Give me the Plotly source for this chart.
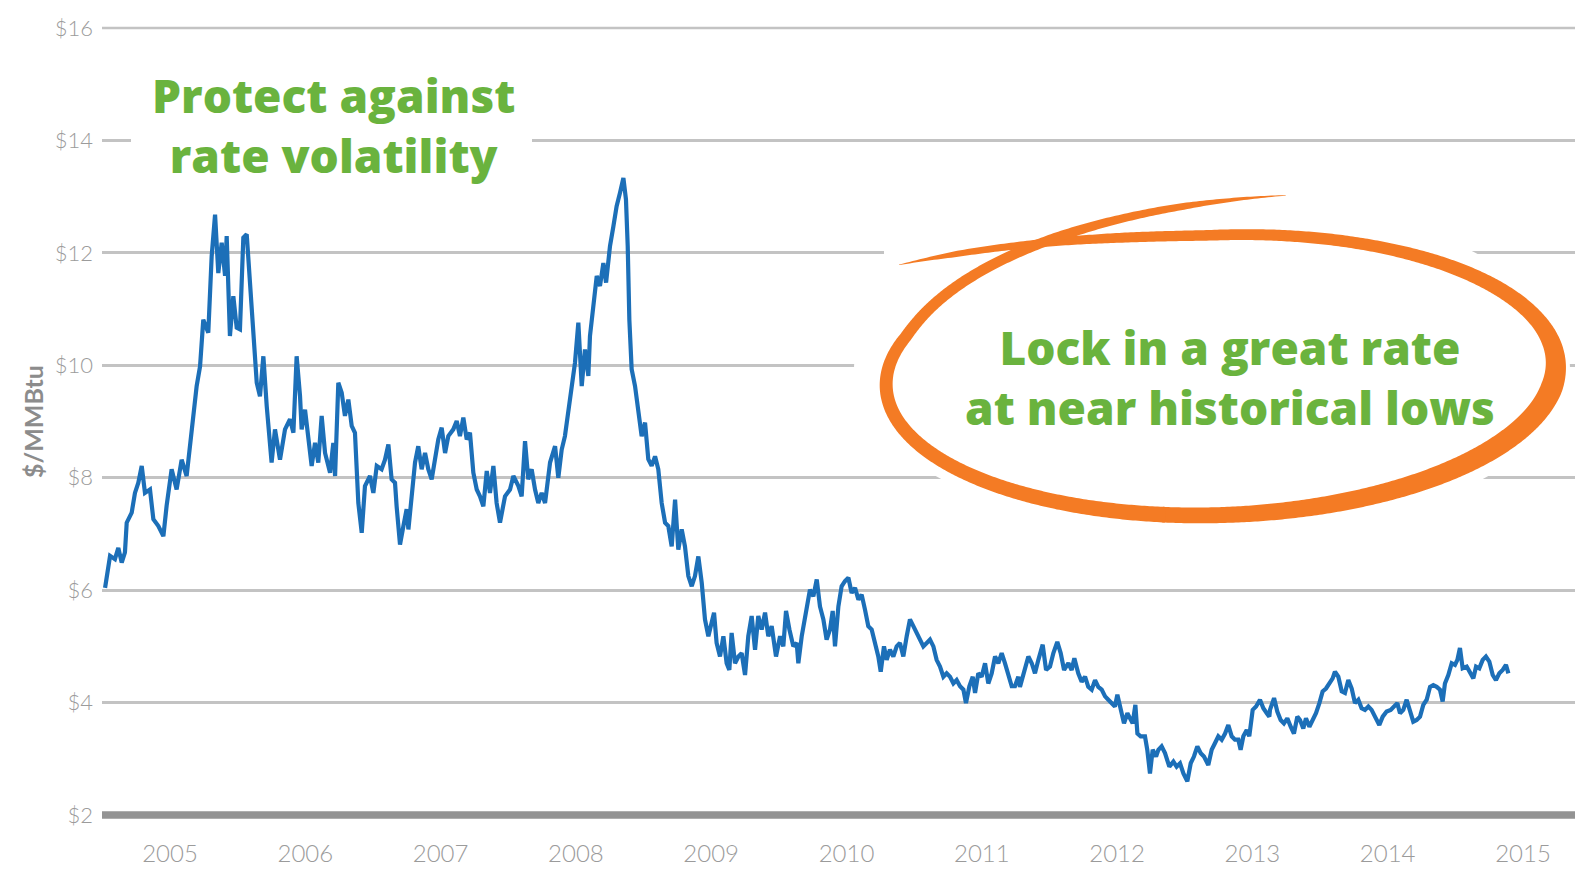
import numpy as np
import plotly.graph_objects as go

# ---------------- data: (decimal year, $/MMBtu) ----------------
seg_2005_2006 = [
    (2005.020, 6.04), (2005.057, 6.61), (2005.093, 6.55), (2005.118, 6.75), (2005.143, 6.49),
    (2005.167, 6.67), (2005.180, 7.20), (2005.217, 7.38), (2005.241, 7.73), (2005.266, 7.91),
    (2005.291, 8.21), (2005.315, 7.73), (2005.352, 7.79), (2005.377, 7.26), (2005.414, 7.14),
    (2005.451, 6.96), (2005.475, 7.50), (2005.512, 8.15), (2005.549, 7.79), (2005.586, 8.32),
    (2005.623, 8.03), (2005.660, 8.92), (2005.697, 9.63), (2005.722, 9.98), (2005.746, 10.81),
    (2005.783, 10.58), (2005.808, 11.94), (2005.833, 12.68), (2005.857, 11.64), (2005.882, 12.18),
    (2005.907, 11.59), (2005.919, 12.30), (2005.943, 10.52), (2005.968, 11.23), (2005.993, 10.67),
    (2006.017, 10.64), (2006.042, 12.27), (2006.067, 12.33), (2006.091, 11.47), (2006.116, 10.58),
    (2006.141, 9.69), (2006.165, 9.45), (2006.190, 10.16), (2006.215, 9.27), (2006.239, 8.44),
    (2006.251, 8.27), (2006.276, 8.86), (2006.313, 8.32), (2006.350, 8.86), (2006.387, 9.04),
    (2006.412, 8.80), (2006.436, 10.16), (2006.461, 9.45), (2006.473, 8.86), (2006.498, 9.21),
    (2006.522, 8.68), (2006.547, 8.21), (2006.572, 8.62), (2006.596, 8.27), (2006.621, 9.10),
    (2006.646, 8.44), (2006.683, 8.09), (2006.707, 8.62), (2006.720, 8.03), (2006.744, 9.69),
    (2006.769, 9.51), (2006.793, 9.10), (2006.818, 9.39), (2006.843, 8.92), (2006.867, 8.80),
    (2006.892, 7.55), (2006.917, 7.02), (2006.941, 7.85), (2006.978, 8.03), (2007.003, 7.73),
    (2007.028, 8.21), (2007.064, 8.15), (2007.089, 8.32), (2007.114, 8.59), (2007.138, 7.97),
    (2007.163, 7.91),
]

seg_2007_2009 = [
    (2007.175, 7.49), (2007.200, 6.81), (2007.225, 7.14), (2007.249, 7.44), (2007.262, 7.08),
    (2007.286, 7.73), (2007.311, 8.27), (2007.335, 8.56), (2007.360, 8.15), (2007.385, 8.44),
    (2007.409, 8.15), (2007.434, 7.97), (2007.459, 8.38), (2007.483, 8.68), (2007.508, 8.89),
    (2007.533, 8.44), (2007.557, 8.74), (2007.594, 8.86), (2007.619, 9.01), (2007.643, 8.74),
    (2007.668, 9.07), (2007.693, 8.68), (2007.717, 8.80), (2007.742, 8.09), (2007.767, 7.79),
    (2007.791, 7.67), (2007.816, 7.49), (2007.841, 8.12), (2007.865, 7.73), (2007.890, 8.21),
    (2007.914, 7.55), (2007.939, 7.20), (2007.976, 7.67), (2008.013, 7.79), (2008.038, 8.03),
    (2008.075, 7.85), (2008.099, 7.67), (2008.124, 8.65), (2008.148, 7.97), (2008.173, 8.15),
    (2008.198, 7.79), (2008.222, 7.55), (2008.247, 7.73), (2008.272, 7.55), (2008.309, 8.27),
    (2008.346, 8.56), (2008.370, 8.00), (2008.395, 8.50), (2008.419, 8.74), (2008.444, 9.21),
    (2008.469, 9.63), (2008.493, 10.04), (2008.518, 10.76), (2008.543, 9.63), (2008.567, 10.28),
    (2008.592, 9.81), (2008.604, 10.52), (2008.629, 11.11), (2008.654, 11.59), (2008.678, 11.41),
    (2008.703, 11.82), (2008.723, 11.47), (2008.752, 12.12), (2008.777, 12.47), (2008.801, 12.83),
    (2008.826, 13.07), (2008.851, 13.33), (2008.870, 12.95), (2008.883, 12.12), (2008.895, 10.81),
    (2008.912, 9.93), (2008.937, 9.63), (2008.962, 9.10), (2008.986, 8.74), (2009.011, 8.98),
    (2009.035, 8.33), (2009.060, 8.21), (2009.085, 8.38), (2009.109, 8.15), (2009.134, 7.55),
    (2009.159, 7.20), (2009.183, 7.14), (2009.208, 6.78), (2009.233, 7.61), (2009.257, 6.72),
    (2009.282, 7.08), (2009.306, 6.78), (2009.331, 6.25), (2009.356, 6.07), (2009.380, 6.25),
    (2009.405, 6.60), (2009.430, 6.13),
]

seg_2009_2011 = [
    (2009.454, 5.48), (2009.479, 5.18), (2009.503, 5.42), (2009.521, 5.60), (2009.540, 5.06),
    (2009.565, 4.82), (2009.590, 5.18), (2009.614, 4.70), (2009.634, 4.58), (2009.651, 5.24),
    (2009.676, 4.70), (2009.701, 4.82), (2009.725, 4.88), (2009.750, 4.49), (2009.774, 5.18),
    (2009.799, 5.54), (2009.824, 4.94), (2009.848, 5.54), (2009.873, 5.30), (2009.898, 5.60),
    (2009.922, 5.18), (2009.947, 5.36), (2009.979, 4.82), (2010.009, 5.18), (2010.033, 5.00),
    (2010.053, 5.63), (2010.078, 5.30), (2010.107, 5.00), (2010.132, 5.06), (2010.144, 4.70),
    (2010.169, 5.18), (2010.206, 5.71), (2010.230, 6.01), (2010.255, 5.89), (2010.280, 6.19),
    (2010.304, 5.71), (2010.329, 5.48), (2010.353, 5.12), (2010.378, 5.30), (2010.398, 5.63),
    (2010.415, 5.00), (2010.440, 5.71), (2010.464, 6.07), (2010.489, 6.16), (2010.514, 6.22),
    (2010.538, 5.95), (2010.563, 6.04), (2010.588, 5.83), (2010.612, 5.92), (2010.637, 5.65),
    (2010.661, 5.36), (2010.686, 5.30), (2010.711, 5.06), (2010.735, 4.82), (2010.753, 4.55),
    (2010.777, 5.00), (2010.797, 4.76), (2010.821, 4.94), (2010.846, 4.82), (2010.871, 5.00),
    (2010.895, 5.06), (2010.920, 4.82), (2010.945, 5.18), (2010.969, 5.48), (2010.994, 5.36),
    (2011.019, 5.24), (2011.043, 5.12), (2011.068, 5.00), (2011.093, 5.06), (2011.117, 5.12),
    (2011.142, 5.00), (2011.166, 4.76), (2011.191, 4.64), (2011.216, 4.46), (2011.240, 4.52),
    (2011.265, 4.46), (2011.290, 4.34), (2011.314, 4.40), (2011.339, 4.29), (2011.364, 4.23),
    (2011.383, 3.99), (2011.408, 4.29), (2011.433, 4.46), (2011.450, 4.17), (2011.474, 4.52),
    (2011.499, 4.46), (2011.524, 4.70), (2011.548, 4.34), (2011.573, 4.52), (2011.598, 4.82),
    (2011.622, 4.70), (2011.647, 4.88), (2011.671, 4.70), (2011.696, 4.46), (2011.721, 4.29),
    (2011.745, 4.29), (2011.770, 4.46),
]

seg_2011_2013 = [
    (2011.782, 4.28), (2011.819, 4.64), (2011.844, 4.82), (2011.869, 4.70), (2011.893, 4.52),
    (2011.918, 4.76), (2011.950, 5.03), (2011.975, 4.58), (2012.004, 4.64), (2012.029, 4.88),
    (2012.058, 5.08), (2012.083, 4.88), (2012.108, 4.58), (2012.140, 4.70), (2012.164, 4.58),
    (2012.184, 4.79), (2012.213, 4.52), (2012.238, 4.37), (2012.263, 4.46), (2012.287, 4.28),
    (2012.312, 4.23), (2012.337, 4.40), (2012.361, 4.28), (2012.386, 4.23), (2012.411, 4.11),
    (2012.435, 4.05), (2012.460, 3.99), (2012.484, 3.93), (2012.502, 4.14), (2012.526, 3.87),
    (2012.551, 3.63), (2012.576, 3.81), (2012.600, 3.69), (2012.615, 3.63), (2012.635, 3.96),
    (2012.650, 3.45), (2012.674, 3.40), (2012.706, 3.40), (2012.723, 3.16), (2012.743, 2.74),
    (2012.763, 3.16), (2012.788, 3.04), (2012.805, 3.16), (2012.829, 3.22), (2012.854, 3.10),
    (2012.886, 2.86), (2012.916, 2.95), (2012.940, 2.86), (2012.965, 2.92), (2012.990, 2.74),
    (2013.019, 2.60), (2013.044, 2.92), (2013.068, 3.04), (2013.093, 3.22), (2013.118, 3.10),
    (2013.142, 3.04), (2013.174, 2.89), (2013.199, 3.16), (2013.224, 3.28), (2013.248, 3.40),
    (2013.273, 3.34), (2013.298, 3.45), (2013.322, 3.60), (2013.347, 3.40), (2013.371, 3.34),
    (2013.396, 3.34), (2013.413, 3.16), (2013.433, 3.40), (2013.458, 3.51), (2013.477, 3.40),
    (2013.502, 3.87), (2013.527, 3.93), (2013.556, 4.05), (2013.581, 3.90), (2013.606, 3.81),
    (2013.625, 3.75),
]

seg_2013_2015 = [
    (2013.630, 3.87), (2013.660, 4.08), (2013.684, 3.84), (2013.709, 3.69), (2013.733, 3.63),
    (2013.758, 3.72), (2013.783, 3.57), (2013.807, 3.45), (2013.832, 3.75), (2013.852, 3.69),
    (2013.876, 3.54), (2013.896, 3.72), (2013.921, 3.57), (2013.945, 3.69), (2013.970, 3.81),
    (2013.995, 3.99), (2014.019, 4.20), (2014.044, 4.25), (2014.068, 4.34), (2014.093, 4.43),
    (2014.110, 4.55), (2014.135, 4.46), (2014.160, 4.20), (2014.184, 4.17), (2014.209, 4.40),
    (2014.234, 4.25), (2014.258, 3.99), (2014.283, 4.05), (2014.307, 3.90), (2014.332, 3.87),
    (2014.357, 3.93), (2014.381, 3.87), (2014.406, 3.75), (2014.438, 3.60), (2014.463, 3.75),
    (2014.492, 3.84), (2014.522, 3.87), (2014.546, 3.93), (2014.571, 3.99), (2014.591, 3.81),
    (2014.615, 3.87), (2014.640, 4.05), (2014.665, 3.87), (2014.689, 3.66), (2014.714, 3.69),
    (2014.739, 3.75), (2014.763, 3.96), (2014.788, 4.05), (2014.813, 4.28), (2014.837, 4.31),
    (2014.862, 4.28), (2014.886, 4.23), (2014.906, 4.02), (2014.923, 4.34), (2014.948, 4.49),
    (2014.973, 4.70), (2014.997, 4.67), (2015.015, 4.76), (2015.034, 4.97), (2015.054, 4.61),
    (2015.084, 4.64), (2015.108, 4.52), (2015.133, 4.43), (2015.153, 4.64), (2015.177, 4.61),
    (2015.202, 4.76), (2015.226, 4.82), (2015.251, 4.73), (2015.276, 4.49), (2015.300, 4.40),
    (2015.325, 4.52), (2015.350, 4.58), (2015.374, 4.67), (2015.392, 4.52),
]

year_labels = [2005, 2006, 2007, 2008, 2009, 2010, 2011, 2012, 2013, 2014, 2015]
price_ticks = [2, 4, 6, 8, 10, 12, 14, 16]
note_left = ["Protect against", "rate volatility"]
note_right = ["Lock in a great rate", "at near historical lows"]
y_title = "$/MMBtu"

# ---------------- layout geometry ----------------
W, H = 1575, 869
ML, MR, MT, MB = 102, 0, 28, 54
PW, PH = W - ML - MR, H - MT - MB

def px(x):
    return (x - ML) / PW

def py(y):
    return (H - MB - y) / PH

BLUE = "#1c6fb8"
GREEN = "#6ab33e"
ORANGE = "#f47b24"
TICK = "#9b9b9b"
GRID = "#c3c3c3"

pts = seg_2005_2006 + seg_2007_2009 + seg_2009_2011 + seg_2011_2013 + seg_2013_2015
years = [p[0] for p in pts]
prices = [p[1] for p in pts]

fig = go.Figure()
fig.add_trace(go.Scatter(
    x=years, y=prices, mode="lines",
    line=dict(color=BLUE, width=4.2),
    hoverinfo="skip", showlegend=False,
))

# ---------------- hand-drawn orange ellipse (decoration) ----------------
def stroke_polys():
    cx, cy, rx, ry = 1221.0, 375.0, 335.0, 140.0
    phi = np.radians(2.0)
    t0, t1 = -137.6, 279.5
    td = np.linspace(t0, t1, 900)
    k = np.ones_like(td)
    a = td < -90
    k[a] = 1 + 0.285 * ((-90 - td[a]) / 47.6) ** 1.69
    b = td > 200
    k[b] = 1 + 0.284 * ((td[b] - 200) / 79.5) ** 1.40
    tr = np.radians(td)
    ex = rx * k * np.cos(tr)
    ey = ry * k * np.sin(tr)
    X = cx + ex * np.cos(phi) + ey * np.sin(phi)
    Y = cy - ex * np.sin(phi) + ey * np.cos(phi)
    ctl_t = [t0, -130, -105, -60, -20, 10, 40, 90, 140, 180, 215, 245, 265, t1]
    ctl_w = [0.5, 6, 10, 12, 16, 22, 20, 16, 14, 13, 11, 10, 7, 0.5]
    w = np.interp(td, ctl_t, ctl_w)
    gx, gy = np.gradient(X), np.gradient(Y)
    n = np.hypot(gx, gy)
    nx, ny = -gy / n, gx / n
    ox, oy = X + nx * w / 2, Y + ny * w / 2
    ix, iy = X - nx * w / 2, Y - ny * w / 2
    polys = []
    split = np.searchsorted(td, 100)
    for s, e in [(0, split + 2), (split, len(td))]:
        xs = np.concatenate([ox[s:e], ix[s:e][::-1]])
        ys = np.concatenate([oy[s:e], iy[s:e][::-1]])
        path = "M " + " L ".join(f"{px(x):.5f},{py(y):.5f}" for x, y in zip(xs, ys)) + " Z"
        polys.append(path)
    return polys

shapes = []
# top gridline at $16 (sits on the plot edge)
shapes.append(dict(type="line", xref="paper", yref="paper", x0=0, x1=1, y0=1, y1=1,
                   line=dict(color=GRID, width=2.5), layer="below"))
# white halo behind the ellipse and behind the left note (hides gridlines there)
shapes.append(dict(type="circle", xref="paper", yref="paper",
                   x0=px(1212 - 358), x1=px(1212 + 358), y0=py(368 + 170), y1=py(368 - 170),
                   fillcolor="white", line=dict(width=0), layer="above"))
shapes.append(dict(type="rect", xref="paper", yref="paper",
                   x0=px(884), x1=px(960), y0=py(262), y1=py(246),
                   fillcolor="white", line=dict(width=0), layer="above"))
shapes.append(dict(type="rect", xref="paper", yref="paper",
                   x0=px(131), x1=px(532), y0=py(190), y1=py(60),
                   fillcolor="white", line=dict(width=0), layer="above"))
for p in stroke_polys():
    shapes.append(dict(type="path", xref="paper", yref="paper", path=p,
                       fillcolor=ORANGE, line=dict(width=0), layer="above"))
# thick baseline at $2
shapes.append(dict(type="line", xref="paper", yref="paper", x0=0, x1=1, y0=0, y1=0,
                   line=dict(color="#939393", width=7.5), layer="above"))

annotations = []
annotations.append(dict(text="<br>".join(note_left), xref="paper", yref="paper",
                        x=px(333), y=py(125), xanchor="center", yanchor="middle",
                        showarrow=False, align="center",
                        font=dict(family="Open Sans", size=46, color=GREEN, weight=800)))
annotations.append(dict(text="<br>".join(note_right), xref="paper", yref="paper",
                        x=px(1230), y=py(377), xanchor="center", yanchor="middle",
                        showarrow=False, align="center",
                        font=dict(family="Open Sans", size=46, color=GREEN, weight=800)))
annotations.append(dict(text=y_title, xref="paper", yref="paper", x=px(33), y=py(422),
                        xanchor="center", yanchor="middle", textangle=-90, showarrow=False,
                        font=dict(family="Lato", size=25, color="#8c8c8c", weight=700)))

fig.update_layout(
    width=W, height=H,
    margin=dict(l=ML, r=MR, t=MT, b=MB, pad=0),
    paper_bgcolor="white", plot_bgcolor="white",
    showlegend=False,
    shapes=shapes, annotations=annotations,
    xaxis=dict(
        range=[2004.9974, 2015.8843],
        tickvals=[y + 0.5 for y in year_labels],
        ticktext=[str(y) for y in year_labels],
        showgrid=False, zeroline=False, showline=False, ticks="",
        tickfont=dict(family="Lato", size=24, color=TICK, weight=300),
        ticklabelstandoff=22,
    ),
    yaxis=dict(
        range=[2, 16],
        tickvals=price_ticks,
        ticktext=[f"${v}" for v in price_ticks],
        showgrid=True, gridcolor=GRID, gridwidth=2.5,
        zeroline=False, showline=False, ticks="",
        tickfont=dict(family="Lato", size=22, color=TICK, weight=300),
        ticklabelstandoff=8,
    ),
)

fig.write_html("out.html", config={"displayModeBar": False})
